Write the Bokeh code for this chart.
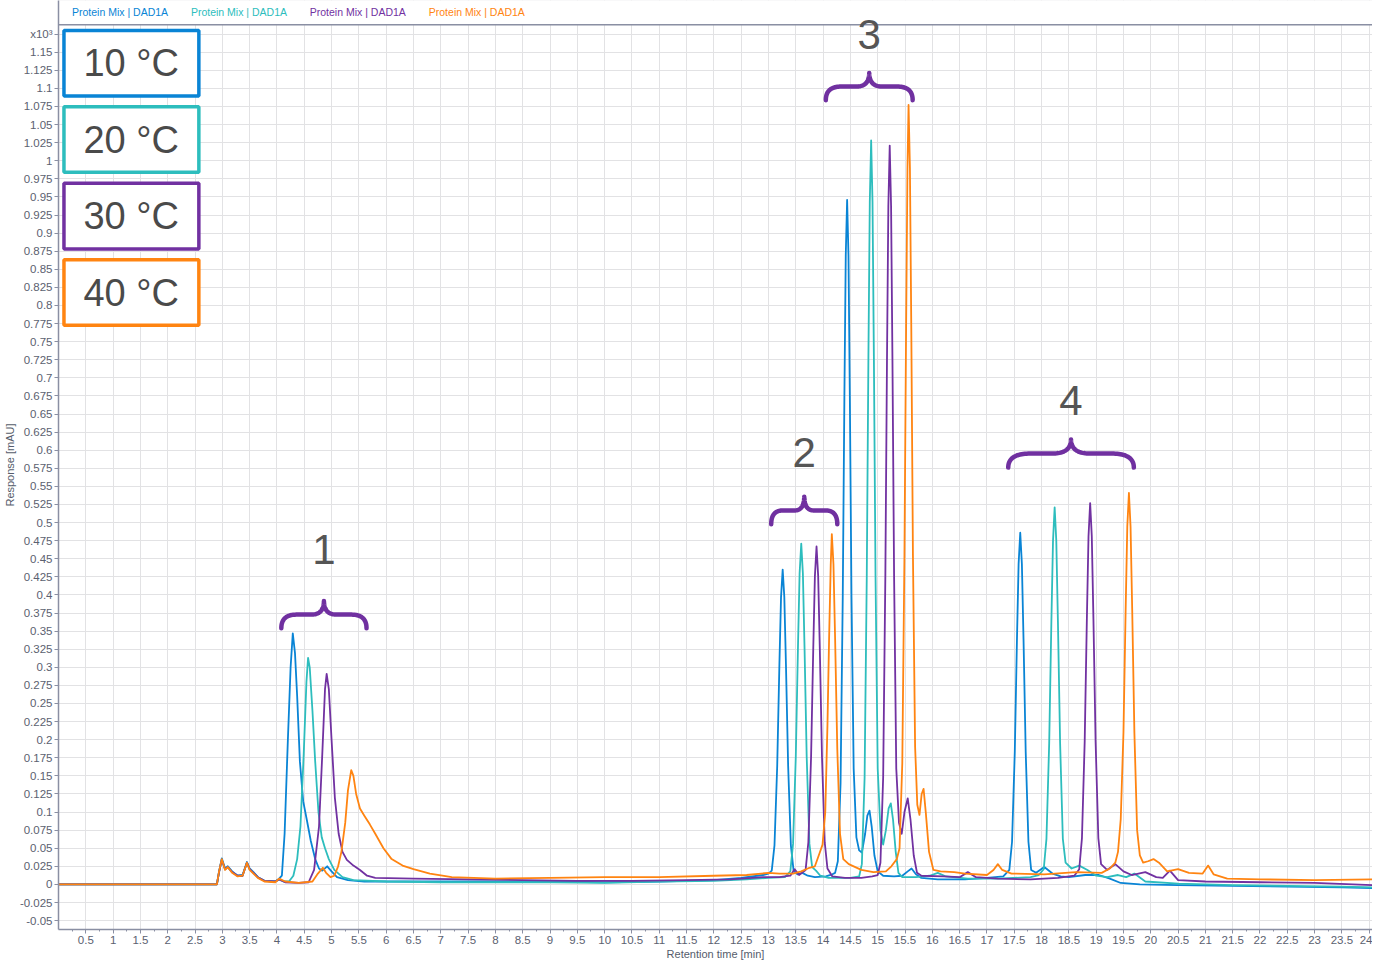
import numpy as np
from bokeh.plotting import figure
from bokeh.models import Range1d, FixedTicker, BoxAnnotation, Span
from bokeh.core.properties import value
from bokeh.embed import file_html
from bokeh.resources import INLINE

# ---------------- data ----------------
temperatures = ["10 °C", "20 °C", "30 °C", "40 °C"]
colors = ["#0984d5", "#2dbdbd", "#7131a1", "#ff8411"]
trace_name = "Protein Mix | DAD1A"
peak_groups = ["1", "2", "3", "4"]

# (retention time [min], response [x10^3 mAU])
trace_10C = [
    (0, 0), (2.9, 0), (2.94, 0.018), (2.99, 0.036), (3.05, 0.022), (3.1, 0.025), (3.18, 0.018),
    (3.28, 0.012), (3.37, 0.013), (3.45, 0.031), (3.5, 0.022), (3.57, 0.017), (3.65, 0.01),
    (3.77, 0.005), (3.97, 0.004), (4.04, 0.008), (4.09, 0.012), (4.14, 0.07), (4.2, 0.2),
    (4.25, 0.3), (4.29, 0.347), (4.33, 0.32), (4.37, 0.26), (4.42, 0.17), (4.48, 0.115),
    (4.55, 0.088), (4.62, 0.06), (4.7, 0.035), (4.77, 0.022), (4.83, 0.019), (4.92, 0.025),
    (5.0, 0.018), (5.1, 0.01), (5.3, 0.006), (5.6, 0.004), (7.0, 0.004), (9.0, 0.004),
    (10.0, 0.003), (11.0, 0.004), (12.0, 0.006), (12.5, 0.009), (12.9, 0.013), (13.0, 0.015),
    (13.06, 0.019), (13.11, 0.054), (13.16, 0.164), (13.2, 0.304), (13.23, 0.397), (13.26, 0.435),
    (13.29, 0.397), (13.32, 0.304), (13.36, 0.164), (13.41, 0.054), (13.46, 0.019), (13.53, 0.014),
    (13.62, 0.016), (13.72, 0.012), (13.85, 0.01), (14.05, 0.011), (14.17, 0.014),
    (14.22, 0.016), (14.27, 0.032), (14.32, 0.14), (14.36, 0.397), (14.39, 0.673), (14.415, 0.869),
    (14.44, 0.946), (14.465, 0.869), (14.49, 0.673), (14.52, 0.397), (14.56, 0.16), (14.61, 0.065),
    (14.66, 0.047), (14.71, 0.044), (14.77, 0.07), (14.81, 0.095), (14.85, 0.102), (14.89, 0.08),
    (14.94, 0.04), (15.0, 0.018), (15.1, 0.012), (15.3, 0.011), (15.45, 0.012), (15.55, 0.018),
    (15.62, 0.022), (15.7, 0.014), (15.8, 0.009), (16.1, 0.007), (16.6, 0.007), (17.0, 0.009),
    (17.3, 0.011), (17.41, 0.02), (17.46, 0.059), (17.51, 0.183), (17.55, 0.339), (17.58, 0.443),
    (17.61, 0.486), (17.64, 0.443), (17.67, 0.339), (17.71, 0.183), (17.76, 0.059), (17.81, 0.02),
    (17.9, 0.016), (18.05, 0.024), (18.2, 0.015), (18.35, 0.011), (18.5, 0.01), (18.8, 0.013),
    (19.05, 0.013), (19.25, 0.008), (19.45, 0.002), (19.8, 0.0), (20.5, -0.001), (21.5, -0.002),
    (22.5, -0.003), (23.5, -0.004), (24.06, -0.005),
]
trace_20C = [
    (0, 0), (2.9, 0), (2.94, 0.017), (2.99, 0.034), (3.05, 0.021), (3.1, 0.024), (3.18, 0.017),
    (3.28, 0.012), (3.37, 0.012), (3.45, 0.030), (3.5, 0.021), (3.57, 0.016), (3.65, 0.01),
    (3.77, 0.005), (3.97, 0.004), (4.04, 0.007), (4.12, 0.004), (4.22, 0.004), (4.3, 0.012),
    (4.37, 0.035), (4.43, 0.08), (4.49, 0.18), (4.54, 0.28), (4.57, 0.313), (4.6, 0.3),
    (4.65, 0.24), (4.7, 0.17), (4.76, 0.1), (4.82, 0.065), (4.88, 0.05), (4.95, 0.035),
    (5.05, 0.02), (5.2, 0.01), (5.4, 0.006), (6.0, 0.004), (7.0, 0.003), (9.0, 0.003),
    (10.0, 0.002), (11.0, 0.004), (12.0, 0.005), (12.6, 0.007), (13.0, 0.009), (13.3, 0.01),
    (13.40, 0.018), (13.45, 0.056), (13.5, 0.176), (13.54, 0.328), (13.57, 0.43), (13.6, 0.471),
    (13.63, 0.43), (13.66, 0.328), (13.7, 0.176), (13.75, 0.056), (13.8, 0.024), (13.87, 0.019),
    (13.95, 0.012), (14.1, 0.009), (14.3, 0.009), (14.5, 0.009),
    (14.66, 0.011), (14.71, 0.028), (14.76, 0.147), (14.8, 0.427), (14.83, 0.73), (14.855, 0.943),
    (14.88, 1.028), (14.905, 0.943), (14.93, 0.73), (14.96, 0.427), (15.0, 0.16), (15.05, 0.075),
    (15.1, 0.055), (15.15, 0.075), (15.2, 0.105), (15.24, 0.112), (15.28, 0.09), (15.33, 0.045),
    (15.38, 0.016), (15.45, 0.01), (15.7, 0.01), (15.95, 0.012), (16.1, 0.016), (16.25, 0.011),
    (16.65, 0.008), (17.2, 0.008), (17.8, 0.01), (17.95, 0.013),
    (18.04, 0.021), (18.09, 0.063), (18.14, 0.195), (18.18, 0.363), (18.21, 0.475), (18.24, 0.521),
    (18.27, 0.475), (18.3, 0.363), (18.34, 0.195), (18.39, 0.063), (18.44, 0.03), (18.55, 0.022),
    (18.69, 0.026), (18.84, 0.02), (19.0, 0.012), (19.2, 0.01), (19.4, 0.013), (19.55, 0.01),
    (19.7, 0.015), (19.9, 0.004), (20.5, 0.001), (21.5, -0.001), (22.5, -0.002), (23.5, -0.003),
    (24.06, -0.004),
]
trace_30C = [
    (0, 0), (2.9, 0), (2.94, 0.017), (2.99, 0.034), (3.05, 0.021), (3.1, 0.024), (3.18, 0.017),
    (3.28, 0.012), (3.37, 0.012), (3.45, 0.030), (3.5, 0.021), (3.57, 0.016), (3.65, 0.01),
    (3.77, 0.005), (3.97, 0.004), (4.04, 0.007), (4.15, 0.003), (4.4, 0.002), (4.58, 0.003),
    (4.68, 0.02), (4.77, 0.08), (4.83, 0.18), (4.88, 0.27), (4.91, 0.291), (4.95, 0.27),
    (5.0, 0.2), (5.06, 0.12), (5.13, 0.07), (5.2, 0.045), (5.28, 0.034), (5.4, 0.026),
    (5.52, 0.02), (5.65, 0.012), (5.8, 0.009), (6.5, 0.008), (7.5, 0.007), (8.5, 0.006),
    (9.5, 0.005), (10.5, 0.005), (11.5, 0.006), (12.3, 0.007), (12.9, 0.01), (13.2, 0.01),
    (13.4, 0.012), (13.48, 0.021), (13.56, 0.013),
    (13.68, 0.02), (13.73, 0.058), (13.78, 0.176), (13.82, 0.326), (13.85, 0.426), (13.88, 0.467),
    (13.91, 0.426), (13.94, 0.326), (13.98, 0.176), (14.03, 0.058), (14.08, 0.022), (14.17, 0.011),
    (14.4, 0.009), (14.7, 0.009), (14.9, 0.011),
    (15.0, 0.013), (15.05, 0.03), (15.1, 0.148), (15.14, 0.426), (15.17, 0.725), (15.195, 0.937),
    (15.22, 1.021), (15.245, 0.937), (15.27, 0.725), (15.3, 0.426), (15.34, 0.16), (15.39, 0.085),
    (15.44, 0.07), (15.49, 0.1), (15.55, 0.119), (15.6, 0.09), (15.66, 0.04), (15.72, 0.016),
    (15.8, 0.012), (16.2, 0.011), (16.5, 0.01), (16.65, 0.017), (16.8, 0.01), (17.2, 0.008),
    (17.8, 0.007), (18.3, 0.009), (18.6, 0.012),
    (18.69, 0.021), (18.74, 0.064), (18.79, 0.197), (18.83, 0.367), (18.86, 0.481), (18.89, 0.527),
    (18.92, 0.481), (18.95, 0.367), (18.99, 0.197), (19.04, 0.064), (19.09, 0.028), (19.2, 0.02),
    (19.35, 0.028), (19.5, 0.018), (19.65, 0.013), (19.9, 0.017), (20.1, 0.01), (20.22, 0.009),
    (20.35, 0.019), (20.5, 0.006), (21.0, 0.004), (22.0, 0.003), (23.0, 0.002), (24.06, -0.001),
]
trace_40C = [
    (0, 0), (2.9, 0), (2.94, 0.018), (2.99, 0.035), (3.05, 0.02), (3.1, 0.024), (3.18, 0.016),
    (3.28, 0.011), (3.37, 0.012), (3.45, 0.03), (3.5, 0.02), (3.57, 0.015), (3.65, 0.009),
    (3.77, 0.004), (3.97, 0.003), (4.04, 0.008), (4.15, 0.004), (4.4, 0.002), (4.65, 0.004),
    (4.75, 0.015), (4.84, 0.023), (4.9, 0.016), (4.98, 0.01), (5.05, 0.012), (5.12, 0.025),
    (5.18, 0.045), (5.25, 0.085), (5.3, 0.13), (5.36, 0.158), (5.4, 0.15), (5.45, 0.125),
    (5.52, 0.105), (5.6, 0.095), (5.7, 0.083), (5.8, 0.07), (5.95, 0.05), (6.1, 0.035),
    (6.3, 0.026), (6.5, 0.021), (6.8, 0.015), (7.2, 0.01), (8.0, 0.008), (9.0, 0.009),
    (10.0, 0.01), (11.0, 0.01), (12.0, 0.012), (12.6, 0.013), (13.0, 0.016), (13.2, 0.015),
    (13.45, 0.015), (13.6, 0.018), (13.75, 0.023), (13.85, 0.025), (13.93, 0.042), (13.99, 0.055),
    (14.04, 0.1), (14.08, 0.22), (14.11, 0.34), (14.14, 0.442), (14.16, 0.484), (14.19, 0.442),
    (14.22, 0.34), (14.26, 0.187), (14.31, 0.07), (14.37, 0.035), (14.47, 0.028), (14.7, 0.02),
    (14.92, 0.017), (15.15, 0.018), (15.25, 0.025),
    (15.35, 0.035), (15.4, 0.05), (15.45, 0.167), (15.49, 0.456), (15.52, 0.769), (15.545, 0.99),
    (15.565, 1.077), (15.59, 0.99), (15.615, 0.769), (15.645, 0.456), (15.685, 0.19), (15.725, 0.11),
    (15.765, 0.096), (15.805, 0.125), (15.84, 0.132), (15.88, 0.1), (15.94, 0.045), (16.02, 0.02),
    (16.15, 0.018), (16.4, 0.017), (16.6, 0.015), (17.0, 0.013), (17.12, 0.02), (17.2, 0.028),
    (17.28, 0.02), (17.45, 0.015), (18.05, 0.014), (18.63, 0.017), (19.1, 0.016), (19.25, 0.022),
    (19.35, 0.03), (19.4, 0.045), (19.45, 0.09), (19.5, 0.21), (19.54, 0.38), (19.57, 0.494),
    (19.6, 0.541), (19.63, 0.494), (19.66, 0.38), (19.7, 0.21), (19.75, 0.075), (19.8, 0.04),
    (19.86, 0.03), (19.95, 0.032), (20.05, 0.035), (20.15, 0.03), (20.3, 0.018), (20.5, 0.021),
    (20.7, 0.016), (20.95, 0.015), (21.05, 0.026), (21.15, 0.014), (21.4, 0.008), (22.0, 0.007),
    (23.0, 0.006), (24.06, 0.007),
]
traces = [trace_10C, trace_20C, trace_30C, trace_40C]

x_ticks = [i / 2 for i in range(1, 49)]            # 0.5 ... 24
x_minor = [i / 4 for i in range(1, 97, 2)]
y_ticks = [i / 40 for i in range(-2, 48)]           # -0.05 ... 1.175
y_tick_labels = {t: ("x10\u00b3" if i == 47 else f"{t:g}") for i, t in zip(range(-2, 48), y_ticks)}
x_tick_labels = {t: f"{t:g}" for t in x_ticks}

# annotation braces: (left, right, bottom, tip) and number labels
brace_left = [4.08, 13.05, 14.05, 17.39]
brace_right = [5.64, 14.26, 15.64, 19.69]
brace_bottom = [0.354, 0.4977, 1.0837, 0.576]
brace_tip = [0.3916, 0.5357, 1.1212, 0.6148]
group_label_y = [0.4625, 0.597, 1.175, 0.668]

# ---------------- figure ----------------
Y0, Y1 = -0.0623, 1.2214
HEADER = 1.188
p = figure(width=1372, height=962, x_range=Range1d(0, 24.06), y_range=Range1d(Y0, Y1),
           output_backend="svg", toolbar_location=None,
           min_border_left=55, min_border_right=0, min_border_top=0, min_border_bottom=30)
p.outline_line_color = None
p.background_fill_color = "white"

axis_col = "#8a8fa3"
for ax in (p.xaxis[0], p.yaxis[0]):
    ax.axis_line_color = axis_col
    ax.axis_line_width = 1.5
    ax.major_tick_line_color = axis_col
    ax.major_tick_out = 4
    ax.major_tick_in = 0
    ax.minor_tick_line_color = axis_col
    ax.minor_tick_out = 2
    ax.minor_tick_in = 0
    ax.major_label_text_color = "#5b6170"
    ax.major_label_text_font = "Liberation Sans"
    ax.major_label_text_font_size = "11.5px"
    ax.major_label_standoff = 2
    ax.axis_label_text_font = "Liberation Sans"
    ax.axis_label_text_font_size = "11px"
    ax.axis_label_text_font_style = "normal"
    ax.axis_label_text_color = "#555c6b"
    ax.axis_label_standoff = 1

p.xaxis.ticker = FixedTicker(ticks=x_ticks, minor_ticks=x_minor)
p.xaxis.major_label_overrides = x_tick_labels
p.xaxis.axis_label = "Retention time [min]"
p.yaxis.ticker = FixedTicker(ticks=y_ticks, minor_ticks=[])
p.yaxis.major_label_overrides = y_tick_labels
p.yaxis.axis_label = "Response [mAU]"

p.xgrid.ticker = FixedTicker(ticks=x_ticks)
p.ygrid.ticker = FixedTicker(ticks=y_ticks)
p.grid.grid_line_color = "#e2e2e4"
p.grid.grid_line_width = 1

# header band (legend strip) above the chart area
p.add_layout(BoxAnnotation(bottom=HEADER, top=Y1, fill_color="white", fill_alpha=1.0,
                           line_color="#cdd0d8", line_width=1, level="underlay"))
p.add_layout(Span(location=HEADER, dimension="width", line_color=axis_col, line_width=1.5,
                  level="underlay"))

# traces
for tr, c in zip(traces, colors):
    xs = [a for a, b in tr]
    ys = [b for a, b in tr]
    p.line(xs, ys, line_color=c, line_width=1.8, line_join="round")

# header legend texts
p.text(x=[0.247, 2.425, 4.60, 6.78], y=[1.2049] * 4, text=[trace_name] * 4,
       text_color=colors, text_font=value("Liberation Sans"), text_font_size="10.5px",
       text_align="left", text_baseline="middle")

# temperature boxes
box_top = [1.180, 1.0745, 0.969, 0.863]
box_bot = [1.0896, 0.984, 0.878, 0.7726]
p.quad(left=[0.10] * 4, right=[2.57] * 4, top=box_top, bottom=box_bot,
       fill_color="white", line_color=colors, line_width=3.5)
p.text(x=[1.33] * 4, y=[(a + b) / 2 for a, b in zip(box_top, box_bot)], text=temperatures,
       text_color="#4a4a4a", text_font=value("Liberation Sans"), text_font_size="38px",
       text_align="center", text_baseline="middle")


# braces
def brace_path(xl, xr, yb, yt, n=24):
    t = np.linspace(0, 1, n)

    def qb(a, b, c):
        return (1 - t) ** 2 * a + 2 * (1 - t) * t * b + t ** 2 * c

    xc = (xl + xr) / 2
    hw = xc - xl
    ym = yb + 0.5 * (yt - yb)
    lx = np.concatenate([qb(xl, xl, xl + 0.35 * hw), [xc - 0.3 * hw], qb(xc - 0.3 * hw, xc, xc)])
    ly = np.concatenate([qb(yb, ym, ym), [ym], qb(ym, ym, yt)])
    rx = 2 * xc - lx[::-1]
    ry = ly[::-1]
    return list(np.concatenate([lx, rx])), list(np.concatenate([ly, ry]))


bx, by = [], []
for xl, xr, yb, yt in zip(brace_left, brace_right, brace_bottom, brace_tip):
    a, b = brace_path(xl, xr, yb, yt)
    bx.append(a)
    by.append(b)
p.multi_line(bx, by, line_color="#7030a0", line_width=4.5, line_cap="round", line_join="round")

p.text(x=[(a + b) / 2 for a, b in zip(brace_left, brace_right)], y=group_label_y, text=peak_groups,
       text_color="#555555", text_font=value("Liberation Sans"), text_font_size="42px",
       text_align="center", text_baseline="middle")

open("out.html", "w").write(file_html(p, INLINE))
